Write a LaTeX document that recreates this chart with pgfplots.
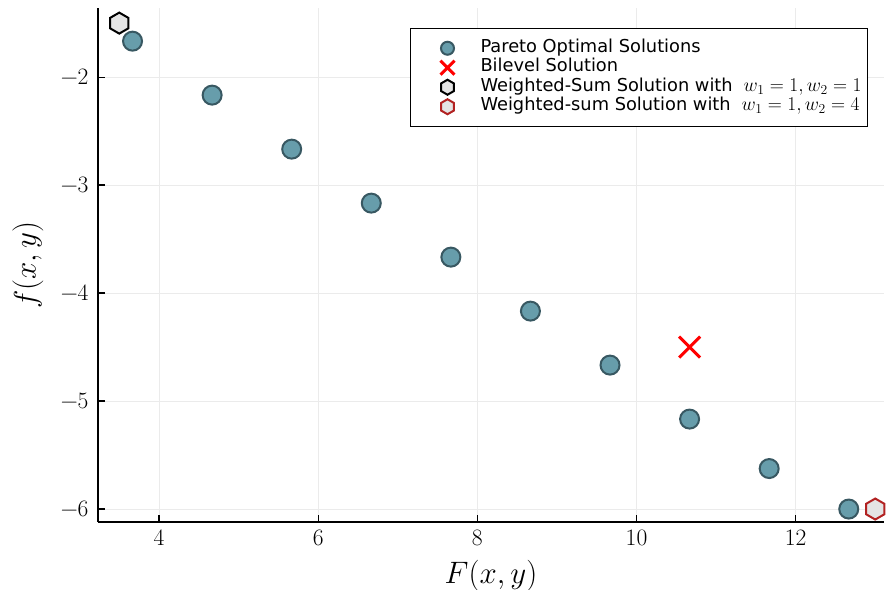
\RequirePackage{fix-cm}
\documentclass[border=0pt]{standalone}
\usepackage{pgfplots}
\pgfplotsset{compat=1.18}
\usepackage{fontspec}
\newfontfamily\dejavu{DejaVu Sans}
\newfontfamily\lmr{Latin Modern Roman}
\usetikzlibrary{calc}

\definecolor{pfill}{RGB}{103,157,171}
\definecolor{pedge}{RGB}{56,88,98}
\definecolor{hexfill}{RGB}{228,228,228}
\definecolor{hexred}{RGB}{178,34,34}

\pgfdeclareplotmark{hexagon}{%
  \pgfpathmoveto{\pgfqpointpolar{90}{\pgfplotmarksize}}%
  \pgfpathlineto{\pgfqpointpolar{150}{\pgfplotmarksize}}%
  \pgfpathlineto{\pgfqpointpolar{210}{\pgfplotmarksize}}%
  \pgfpathlineto{\pgfqpointpolar{270}{\pgfplotmarksize}}%
  \pgfpathlineto{\pgfqpointpolar{330}{\pgfplotmarksize}}%
  \pgfpathlineto{\pgfqpointpolar{30}{\pgfplotmarksize}}%
  \pgfpathclose
  \pgfusepathqfillstroke}

\pgfdeclareplotmark{bigx}{%
  \pgfpathmoveto{\pgfqpoint{-\pgfplotmarksize}{-\pgfplotmarksize}}%
  \pgfpathlineto{\pgfqpoint{\pgfplotmarksize}{\pgfplotmarksize}}%
  \pgfpathmoveto{\pgfqpoint{-\pgfplotmarksize}{\pgfplotmarksize}}%
  \pgfpathlineto{\pgfqpoint{\pgfplotmarksize}{-\pgfplotmarksize}}%
  \pgfusepathqstroke}

\begin{document}
\begin{tikzpicture}
\begin{axis}[
  scale only axis, width=786pt, height=514pt,
  xmin=3.233, xmax=13.11, ymin=-6.12, ymax=-1.36,
  axis lines=left, axis line style={-, line width=1.5pt, black},
  clip=false,
  xtick={4,6,8,10,12}, ytick={-6,-5,-4,-3,-2},
  xticklabels={4,6,8,10,12},
  yticklabels={−6,−5,−4,−3,−2},
  xticklabel style={font=\lmr\fontsize{23.5}{26}\selectfont, yshift=-4pt},
  yticklabel style={font=\lmr\fontsize{23.5}{26}\selectfont, xshift=-6pt},
  tick align=inside, major tick length=7pt,
  tick style={black, line width=1.2pt},
  grid=major, major grid style={black!8, line width=0.8pt},
  xlabel={$F(x,y)$}, ylabel={$f(x,y)$},
  label style={font=\fontsize{31}{31}\selectfont},
  xlabel style={at={(axis description cs:0.5,0)}, anchor=center, yshift=-54pt},
  ylabel style={at={(axis description cs:0,0.5)}, anchor=center, yshift=70pt},
  legend cell align=left,
  legend image code/.code={%
    \path[draw=none, fill=none] (0pt,0pt) (64pt,0pt);
    \draw[#1] plot coordinates {(33pt,0pt)};},
  legend style={at={(0,1)}, anchor=north west, xshift=312pt, yshift=-20pt,
    draw=black, line width=1pt, font=\dejavu\fontsize{17.8}{19}\selectfont,
    nodes={text height=13pt, text depth=4.5pt, inner ysep=1pt},
    inner xsep=4pt, inner ysep=10pt, column sep=0pt},
]
\coordinate (ll) at (rel axis cs:0,0);
\addplot[only marks, mark=*, mark size=9.5pt,
  mark options={fill=pfill, draw=pedge, line width=2pt},
  legend image post style={mark size=6.5pt}] coordinates {
  (3.667,-1.667) (4.667,-2.167) (5.667,-2.667) (6.667,-3.167) (7.667,-3.667)
  (8.667,-4.167) (9.667,-4.667) (10.667,-5.167) (11.667,-5.625) (12.667,-6.0)
};
\addlegendentry{Pareto Optimal Solutions}
\addplot[only marks, mark=bigx, mark size=10.5pt,
  mark options={draw=red, line width=3pt},
  legend image post style={mark size=7pt, line width=2.2pt}] coordinates {(10.667,-4.5)};
\addlegendentry{Bilevel Solution}
\addplot[only marks, mark=hexagon, mark size=10.5pt,
  mark options={fill=hexfill, draw=black, line width=2pt},
  legend image post style={mark size=7.5pt}] coordinates {(3.5,-1.5)};
\addlegendentry{Weighted-Sum Solution with\hspace{11pt}{\fontsize{19.5}{19}\selectfont$w_1=1, w_2=1$}}
\addplot[only marks, mark=hexagon, mark size=10.5pt,
  mark options={fill=hexfill, draw=hexred, line width=2pt},
  legend image post style={mark size=7.5pt}] coordinates {(13,-6)};
\addlegendentry{Weighted-sum Solution with\hspace{11pt}{\fontsize{19.5}{19}\selectfont$w_1=1, w_2=4$}}
\end{axis}
\pgfresetboundingbox
\useasboundingbox ($(ll)+(-98pt,-67pt)$) rectangle ++(886pt,589pt);
\end{tikzpicture}
\end{document}
